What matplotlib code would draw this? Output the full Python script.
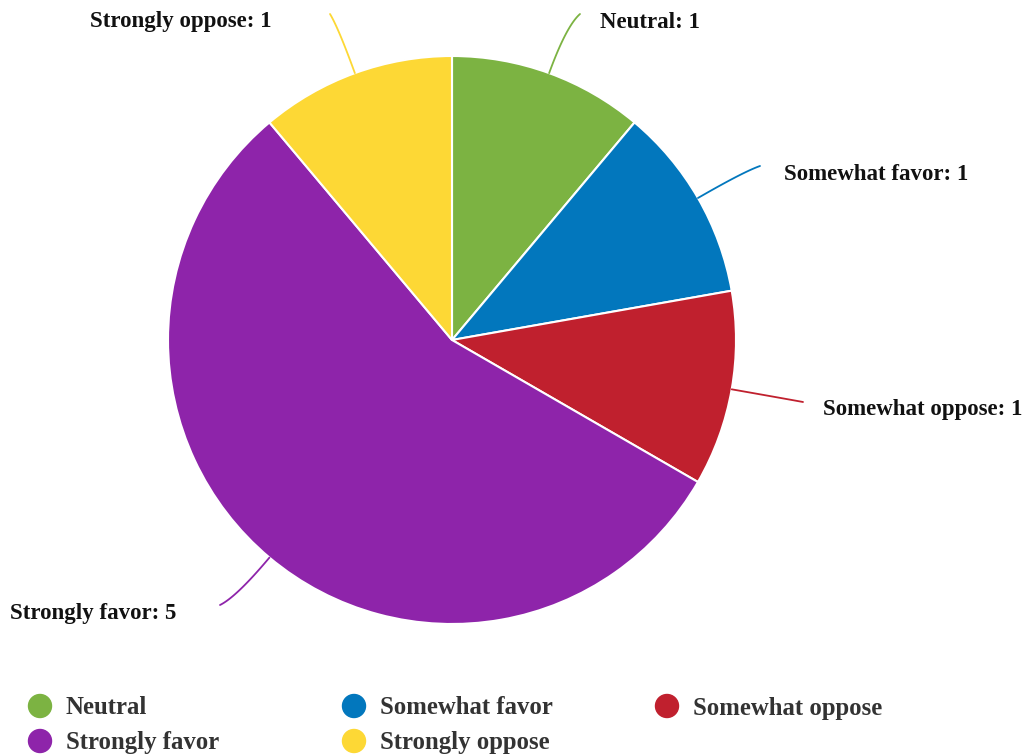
import matplotlib

matplotlib.use("Agg")
import matplotlib.pyplot as plt
import numpy as np

W, H = 1026, 756

categories = ["Neutral", "Somewhat favor", "Somewhat oppose", "Strongly favor", "Strongly oppose"]
counts = [1, 1, 1, 5, 1]
colors = ["#7cb342", "#0277bd", "#c0202e", "#8e24aa", "#fdd835"]

# label layout: connector end point (pixel coords, y down), text x and alignment
LABEL_ENDS = {
    "Neutral": (580, 14, 600, "left"),
    "Somewhat favor": (760, 166, 784, "left"),
    "Somewhat oppose": (803, 402, 823, "left"),
    "Strongly favor": (220, 605, 176, "right"),
    "Strongly oppose": (330, 14, 272, "right"),
}

CENTER = (452, H - 340)
RADIUS = 284
FONT = "Liberation Serif"

fig = plt.figure(figsize=(W / 100, H / 100), dpi=100)
ax = fig.add_axes([0, 0, 1, 1])
ax.set_xlim(0, W)
ax.set_ylim(0, H)
ax.set_aspect("equal")
ax.axis("off")

wedges, _ = ax.pie(
    counts, colors=colors, startangle=90, counterclock=False,
    center=CENTER, radius=RADIUS,
    wedgeprops=dict(edgecolor="white", linewidth=1.5),
)
ax.set_xlim(0, W)
ax.set_ylim(0, H)

for wedge, name, value, color in zip(wedges, categories, counts, colors):
    mid = np.deg2rad((wedge.theta1 + wedge.theta2) / 2)
    direction = np.array([np.cos(mid), np.sin(mid)])
    start = np.array(CENTER) + direction * RADIUS
    ex, ey, tx, side = LABEL_ENDS[name]
    end = np.array([ex, H - ey])
    ctrl = start + direction * 0.75 * np.linalg.norm(end - start)
    t = np.linspace(0, 1, 40)[:, None]
    curve = (1 - t) ** 2 * start + 2 * (1 - t) * t * ctrl + t ** 2 * end
    ax.plot(curve[:, 0], curve[:, 1], color=color, linewidth=1.3,
            solid_capstyle="round")
    ax.text(tx, H - ey - 8, f"{name}: {value}", ha=side, va="center",
            fontsize=16.5, fontweight="bold", family=FONT, color="#111111")

# legend in three columns
legend_x = [40, 354, 667]
legend_y = [706, 741]
for i, (name, color) in enumerate(zip(categories, colors)):
    row, col = divmod(i, 3)
    lx, ly = legend_x[col], H - legend_y[row]
    ax.add_patch(plt.Circle((lx, ly), 11.5, color=color))
    ax.text(lx + 26, ly - 2, name, ha="left", va="center", fontsize=17.8,
            fontweight="bold", family=FONT, color="#333333")

fig.savefig("out.png", dpi=100, facecolor="white")
